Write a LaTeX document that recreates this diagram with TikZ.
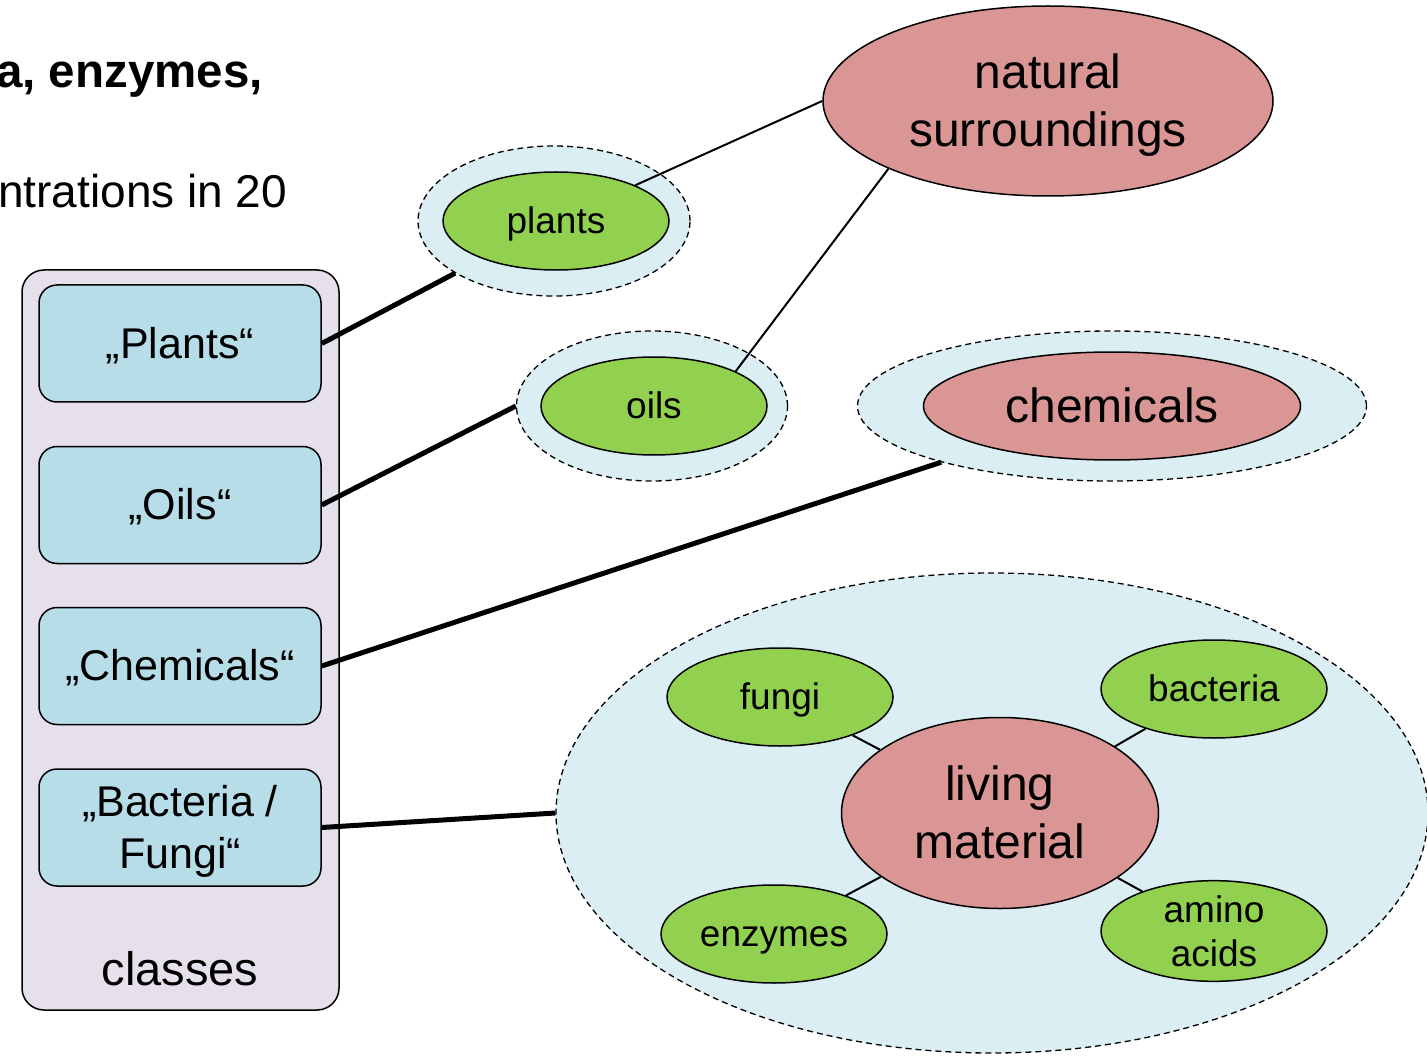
\documentclass[tikz,border=0pt]{standalone}
\usepackage{fontspec}
\setmainfont{Liberation Sans}
\usetikzlibrary{shapes.geometric}
\definecolor{classbg}{HTML}{E6E0EC}
\definecolor{classfill}{HTML}{B7DDE8}
\definecolor{halofill}{HTML}{DBEEF4}
\definecolor{leaffill}{HTML}{92D050}
\definecolor{rosefill}{HTML}{D99694}

\begin{document}
\begin{tikzpicture}[x=1pt,y=-1pt,
  classitem/.style={draw,fill=classfill,rounded corners=18pt,line width=1.5pt,
    minimum width=282pt,minimum height=117pt,inner sep=0pt,align=center,
    text height=38.9pt,text depth=9.1pt,font=\fontsize{43}{52}\selectfont},
  haloring/.style={ellipse,draw,dash pattern=on 6pt off 4pt,fill=halofill,
    line width=1.3pt,inner sep=0pt},
  leafnode/.style={ellipse,draw,fill=leaffill,line width=1.5pt,minimum width=226pt,
    minimum height=98pt,inner sep=0pt,align=center,text height=33.5pt,
    text depth=7.8pt,font=\fontsize{37}{44}\selectfont},
  topic/.style={ellipse,draw,fill=rosefill,line width=1.5pt,inner sep=0pt,
    align=center,text height=43.4pt,text depth=10.2pt,
    font=\fontsize{48}{58}\selectfont},
  thicklink/.style={line width=5pt},
  thinlink/.style={line width=2pt}]
\useasboundingbox (0,0) rectangle (1427,1056);
\fill[white] (0,0) rectangle (1427,1056);
% cut-off heading text
\node[anchor=base west,inner sep=0pt,font=\fontsize{47.5}{58}\selectfont\bfseries]
  (headA) at (-4,88) {a, enzymes,};
\node[anchor=base west,inner sep=0pt,font=\fontsize{46}{56}\selectfont]
  (headB) at (-2,208) {ntrations in 20};
% classes column
\node[draw,fill=classbg,rounded corners=22pt,line width=1.5pt,minimum width=317pt,
  minimum height=740pt] (classes) at (180.5,640) {};
\node[classitem] (cplants) at (180,343.5) {„Plants“};
\node[classitem] (coils) at (180,505) {„Oils“};
\node[classitem] (cchem) at (180,666) {„Chemicals“};
\node[classitem,text height=90.9pt] (cbact) at (180,827.5) {„Bacteria /\\Fungi“};
\node[font=\fontsize{47}{56}\selectfont] (classlabel) at (180,969) {classes};
% halos
\node[haloring,minimum width=272pt,minimum height=150pt] (hplants) at (554,221) {};
\node[haloring,minimum width=271pt,minimum height=150pt] (hoils) at (652,406) {};
\node[haloring,minimum width=509pt,minimum height=150pt] (hchem) at (1112,406) {};
\node[haloring,minimum width=872pt,minimum height=480pt] (hliving) at (992,813) {};
% topics and items
\node[topic,text height=101.4pt,minimum width=450pt,minimum height=190pt] (natural)
  at (1048,101) {natural\\surroundings};
\node[topic,minimum width=377pt,minimum height=108pt] (chem) at (1112,406) {chemicals};
\node[topic,text height=100.4pt,minimum width=317pt,minimum height=191pt] (living)
  at (1000,813) {living\\material};
\node[leafnode] (plants) at (556,221) {plants};
\node[leafnode] (oils) at (654,406) {oils};
\node[leafnode] (fungi) at (780,697) {fungi};
\node[leafnode] (bacteria) at (1214,689) {bacteria};
\node[leafnode] (enzymes) at (774,934) {enzymes};
\node[leafnode,text height={},text depth={}] (amino) at (1214,931) {amino\\acids};
% connectors
\draw[thicklink] (cplants.east) -- (hplants);
\draw[thicklink] (coils.east) -- (hoils.west);
\draw[thicklink] (cchem.east) -- (hchem);
\draw[thicklink] (cbact.east) -- (hliving.west);
\draw[thinlink] (plants) -- (natural.west);
\draw[thinlink] (oils.23) -- (natural.203);
\draw[thinlink] (living) -- (fungi);
\draw[thinlink] (living) -- (bacteria);
\draw[thinlink] (living) -- (enzymes);
\draw[thinlink] (living) -- (amino);
\end{tikzpicture}
\end{document}
